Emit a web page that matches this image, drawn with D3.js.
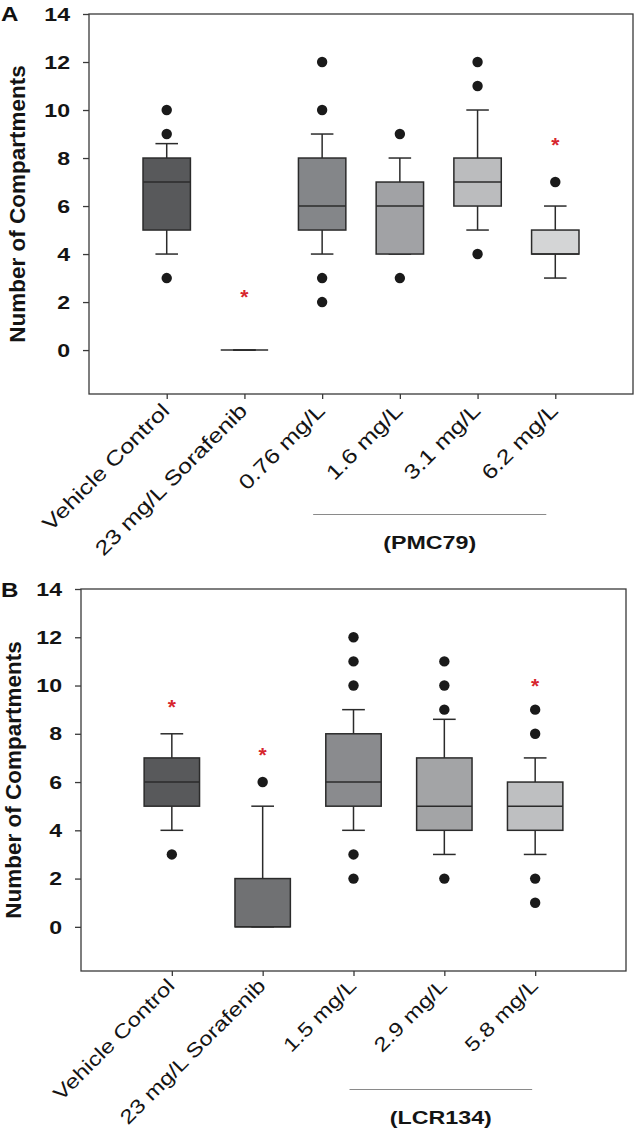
<!DOCTYPE html>
<html>
<head>
<meta charset="utf-8">
<script src="https://cdn.jsdelivr.net/npm/d3@7"></script>
<style>
  html, body { margin: 0; padding: 0; background: #fff; }
  svg { display: block; }
  text { font-family: "Liberation Sans", Arial, Helvetica, sans-serif; }
</style>
</head>
<body>
<script>
// ---------------- DATA ----------------
// Panel A (PMC79)
const catsA = ["Vehicle Control", "23 mg/L Sorafenib", "0.76 mg/L", "1.6 mg/L", "3.1 mg/L", "6.2 mg/L"];
const loA   = [4,   0, 4, 4, 5,  3];
const q1A   = [5,   0, 5, 4, 6,  4];
const medA  = [7,   0, 6, 6, 7,  4];
const q3A   = [8,   0, 8, 7, 8,  5];
const hiA   = [8.6, 0, 9, 8, 10, 6];
const outA  = [[10, 9, 3], [], [12, 10, 3, 2], [9, 3], [12, 11, 4], [7]];
const starA = [null, 2.43, null, null, null, 8.77];
const fillA = ["#58595b", "#58595b", "#848689", "#a1a2a5", "#bbbcbe", "#d4d5d6"];
const groupA = "(PMC79)";

// Panel B (LCR134)
const catsB = ["Vehicle Control", "23 mg/L Sorafenib", "1.5 mg/L", "2.9 mg/L", "5.8 mg/L"];
const loB   = [4, 0, 4, 3,   3];
const q1B   = [5, 0, 5, 4,   4];
const medB  = [6, 0, 6, 5,   5];
const q3B   = [7, 2, 8, 7,   6];
const hiB   = [8, 5, 9, 8.6, 7];
const outB  = [[3], [6], [12, 11, 10, 3, 2], [11, 10, 9, 2], [9, 8, 2, 1]];
const starB = [9.34, 7.33, null, null, 10.17];
const fillB = ["#58595b", "#707173", "#8a8b8e", "#a3a4a6", "#bebfc1"];
const groupB = "(LCR134)";

const yTicks = [0, 2, 4, 6, 8, 10, 12, 14];
const yDomain = [-1.83, 14];
const yTitle = "Number of Compartments";

// ---------------- DRAW ----------------
const W = 634, H = 1131;
const svg = d3.select("body").append("svg").attr("width", W).attr("height", H);
svg.append("rect").attr("width", W).attr("height", H).attr("fill", "#fff");

const INK = "#2b2b2b";
const TXT = "#141414";

function panel(o) {
  const g = svg.append("g");
  const n = o.cats.length;
  const x = d3.scaleLinear().domain([0, n + 1]).range([o.left, o.right]);
  const y = d3.scaleLinear().domain(yDomain).range([o.bottom, o.top]);
  const step = x(1) - x(0);
  const bw = step * 0.61;
  const cw = step * o.cap;

  // frame
  g.append("rect")
    .attr("x", o.left).attr("y", o.top)
    .attr("width", o.right - o.left).attr("height", o.bottom - o.top)
    .attr("fill", "none").attr("stroke", "#3a3a3a").attr("stroke-width", 1.3);

  // y axis
  const yAxis = d3.axisLeft(y).tickValues(yTicks).tickSize(6).tickFormat("");
  const ya = g.append("g").attr("transform", `translate(${o.left},0)`).call(yAxis);
  ya.select(".domain").remove();
  ya.selectAll(".tick line").attr("stroke", "#3a3a3a").attr("stroke-width", 1.3);

  g.selectAll(".ylab").data(yTicks).join("text")
    .attr("transform", d => `translate(${o.left - 19},${y(d)}) scale(1.25,1)`)
    .attr("dy", "0.36em")
    .attr("text-anchor", "end")
    .attr("font-size", 18.5).attr("font-weight", "bold").attr("fill", TXT)
    .text(d => d);

  // x axis ticks
  const idx = d3.range(1, n + 1);
  const xAxis = d3.axisBottom(x).tickValues(idx).tickSize(5).tickFormat("");
  const xa = g.append("g").attr("transform", `translate(0,${o.bottom})`).call(xAxis);
  xa.select(".domain").remove();
  xa.selectAll(".tick line").attr("stroke", "#3a3a3a").attr("stroke-width", 1.3);

  g.selectAll(".xlab").data(o.cats).join("text")
    .attr("transform", (d, i) => `translate(${x(i + 1) + 4},${o.bottom + o.labDy}) rotate(-45) scale(1.23,1)`)
    .attr("text-anchor", "end")
    .attr("font-size", o.labFs).attr("fill", TXT)
    .text(d => d);

  // y title
  g.append("text")
    .attr("transform", `translate(${o.titleX},${(o.top + o.bottom) / 2}) rotate(-90)`)
    .attr("text-anchor", "middle")
    .attr("font-size", 22.5).attr("font-weight", "bold").attr("fill", TXT)
    .text(yTitle);

  // panel letter
  g.append("text")
    .attr("transform", `translate(1,${o.letterY}) scale(1.15,1)`)
    .attr("font-size", 21).attr("font-weight", "bold").attr("fill", "#111")
    .text(o.letter);

  // boxes
  const boxes = g.selectAll(".box").data(o.cats.map((c, i) => i)).join("g");
  // whiskers
  boxes.append("line")
    .attr("x1", i => x(i + 1)).attr("x2", i => x(i + 1))
    .attr("y1", i => y(o.q3[i])).attr("y2", i => y(o.hi[i]))
    .attr("stroke", INK).attr("stroke-width", 1.5);
  boxes.append("line")
    .attr("x1", i => x(i + 1)).attr("x2", i => x(i + 1))
    .attr("y1", i => y(o.q1[i])).attr("y2", i => y(o.lo[i]))
    .attr("stroke", INK).attr("stroke-width", 1.5);
  boxes.append("line")
    .attr("x1", i => x(i + 1) - cw / 2).attr("x2", i => x(i + 1) + cw / 2)
    .attr("y1", i => y(o.hi[i])).attr("y2", i => y(o.hi[i]))
    .attr("stroke", INK).attr("stroke-width", 1.5);
  boxes.append("line")
    .attr("x1", i => x(i + 1) - cw / 2).attr("x2", i => x(i + 1) + cw / 2)
    .attr("y1", i => y(o.lo[i])).attr("y2", i => y(o.lo[i]))
    .attr("stroke", INK).attr("stroke-width", 1.5);
  // box rect
  boxes.append("rect")
    .attr("x", i => x(i + 1) - bw / 2).attr("width", bw)
    .attr("y", i => y(o.q3[i])).attr("height", i => y(o.q1[i]) - y(o.q3[i]))
    .attr("fill", i => o.fill[i]).attr("stroke", INK).attr("stroke-width", 1.5);
  // median
  boxes.append("line")
    .attr("x1", i => x(i + 1) - bw / 2).attr("x2", i => x(i + 1) + bw / 2)
    .attr("y1", i => y(o.med[i])).attr("y2", i => y(o.med[i]))
    .attr("stroke", INK).attr("stroke-width", 1.5);
  // outliers
  boxes.each(function (i) {
    d3.select(this).selectAll("circle").data(o.out[i]).join("circle")
      .attr("cx", x(i + 1)).attr("cy", d => y(d)).attr("r", 5.2)
      .attr("fill", "#1a1a1a");
  });
  // significance stars
  const sfs = 21;
  g.selectAll(".star").data(o.star.map((v, i) => ({ v, i })).filter(d => d.v != null)).join("text")
    .attr("x", d => x(d.i + 1)).attr("y", d => y(d.v) + 0.575 * sfs)
    .attr("text-anchor", "middle")
    .attr("font-size", sfs).attr("font-weight", "bold").attr("fill", "#d7262e")
    .text("*");

  // group bracket line and label
  g.append("line")
    .attr("x1", x(o.gFrom) + o.gOff1).attr("x2", x(o.gTo) + o.gOff2)
    .attr("y1", o.gLineY).attr("y2", o.gLineY)
    .attr("stroke", "#8a8a8a").attr("stroke-width", 1);
  g.append("text")
    .attr("transform", `translate(${(x(o.gFrom) + o.gOff1 + x(o.gTo) + o.gOff2) / 2},${o.gTextY}) scale(1.25,1)`)
    .attr("text-anchor", "middle")
    .attr("font-size", 18.6).attr("font-weight", "bold").attr("fill", TXT)
    .text(o.group);
}

panel({
  cats: catsA, lo: loA, q1: q1A, med: medA, q3: q3A, hi: hiA, out: outA, star: starA, fill: fillA,
  group: groupA, letter: "A",
  left: 89, right: 633, top: 14, bottom: 394, cap: 0.29,
  titleX: 25, letterY: 21, labFs: 20.5, labDy: 18,
  gFrom: 3, gTo: 6, gOff1: -9, gOff2: -9, gLineY: 514.5, gTextY: 549
});

panel({
  cats: catsB, lo: loB, q1: q1B, med: medB, q3: q3B, hi: hiB, out: outB, star: starB, fill: fillB,
  group: groupB, letter: "B",
  left: 81, right: 626, top: 589, bottom: 971, cap: 0.25,
  titleX: 21, letterY: 597, labFs: 19.6, labDy: 16,
  gFrom: 3, gTo: 5, gOff1: -4, gOff2: -3, gLineY: 1089.5, gTextY: 1124
});
</script>
</body>
</html>
